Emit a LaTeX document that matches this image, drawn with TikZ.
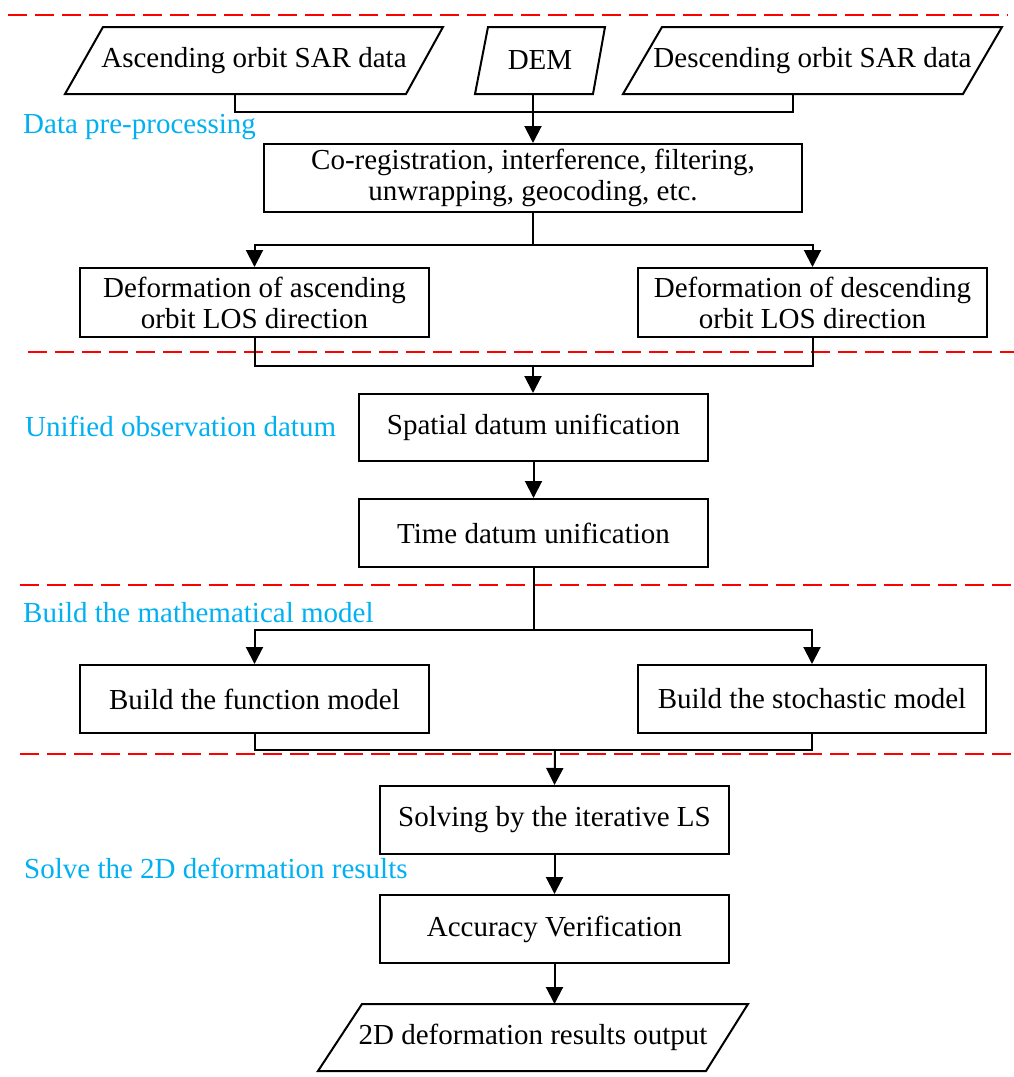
\documentclass[tikz,border=0pt]{standalone}
\usepackage{fontspec}
\setmainfont{Liberation Serif}
\usetikzlibrary{arrows.meta,calc}
\definecolor{lblcyan}{RGB}{0,176,240}
\tikzset{
  base/.style={line width=2pt},
  stepbox/.style={draw,base,rectangle,minimum width=349pt,minimum height=68pt,inner sep=2pt,align=center,font=\fontsize{29}{31}\selectfont},
  iotext/.style={rectangle,minimum height=67pt,inner sep=0pt,outer sep=0pt,font=\fontsize{29}{31}\selectfont},
  para/.style={base,line join=miter},
  conn/.style={base},
  arr/.style={base,-{Triangle[length=17pt,width=17pt]}},
  sep/.style={red,line width=1.8pt,dash pattern=on 19pt off 8pt},
  lbl/.style={anchor=base west,text=lblcyan,inner sep=0pt,font=\fontsize{29}{31}\selectfont}
}
\begin{document}
\begin{tikzpicture}[x=1pt,y=-1pt]
\useasboundingbox (0,0) rectangle (1014,1077);
% separators
\draw[sep] (8,15) -- (1008,15);
\draw[sep] (28,352) -- (1014,352);
\draw[sep] (20,585) -- (1014,585);
\draw[sep] (20,754) -- (1014,754);
% labels
\node[lbl] (l1) at (23,133) {Data pre-processing};
\node[lbl] (l2) at (25,436) {Unified observation datum};
\node[lbl] (l3) at (23,622) {Build the mathematical model};
\node[lbl] (l4) at (24,878) {Solve the 2D deformation results};
% inputs (text areas span the parallelograms' full width)
\node[iotext,minimum width=378pt] (asc) at (254,60.5) {Ascending orbit SAR data};
\node[iotext,minimum width=130pt] (dem) at (540,60.5) {DEM};
\node[iotext,minimum width=379pt] (desc) at (812.5,60.5) {Descending orbit SAR data};
\draw[para] (asc.south west) -- ($(asc.south west)+(341,0)$) -- (asc.north east) -- ($(asc.north east)+(-340,0)$) -- cycle;
\draw[para] (dem.south west) -- ($(dem.south west)+(118,0)$) -- (dem.north east) -- ($(dem.north east)+(-117,0)$) -- cycle;
\draw[para] (desc.south west) -- ($(desc.south west)+(340,0)$) -- (desc.north east) -- ($(desc.north east)+(-340,0)$) -- cycle;
% steps
\node[stepbox,minimum width=538pt] (pre) at (533,178) {Co-registration, interference, filtering,\\unwrapping, geocoding, etc.};
\node[stepbox,minimum height=69pt] (dasc) at (254.5,302.5) {Deformation of ascending\\orbit LOS direction};
\node[stepbox,minimum height=69pt] (ddesc) at (812.5,302.5) {Deformation of descending\\orbit LOS direction};
\node[stepbox,minimum height=67pt] (spat) at (533.5,427.5) {Spatial datum unification};
\node[stepbox] (time) at (533.5,533) {Time datum unification};
\node[stepbox] (func) at (254.5,699) {Build the function model};
\node[stepbox,minimum width=348pt] (stoch) at (812,699) {Build the stochastic model};
\node[stepbox] (solve) at (554.5,820) {Solving by the iterative LS};
\node[stepbox] (acc) at (554.5,929) {Accuracy Verification};
\node[iotext,minimum width=430pt] (out) at (533,1037.5) {2D deformation results output};
\draw[para] (out.south west) -- ($(out.south west)+(388,0)$) -- (out.north east) -- ($(out.north east)+(-386,0)$) -- cycle;
% junctions
\coordinate (m1) at (533,112);
\coordinate (m2) at (533,245);
\coordinate (m3) at (533,366);
\coordinate (m4) at (533,630);
\coordinate (m5) at (555,750);
% connectors
\draw[conn] ($(asc.south west)+(170,0)$) |- (m1) -| ($(desc.south west)+(170,0)$);
\draw[arr] ($(dem.south west)+(58,0)$) -- (m1 |- pre.north);
\draw[conn] (pre.south) -- (m2);
\draw[arr] (m2) -| (dasc.north);
\draw[arr] (m2) -| (ddesc.north);
\draw[conn] (dasc.south) |- (m3) -| (ddesc.south);
\draw[arr] (m3) -- (m3 |- spat.north);
\draw[arr] (spat) -- (time);
\draw[conn] (time.south) -- (time.south |- m4);
\draw[arr] (m4) -| (func.north);
\draw[arr] (m4) -| (stoch.north);
\draw[conn] (func.south) |- (m5) -| (stoch.south);
\draw[arr] (m5) -- (solve.north);
\draw[arr] (solve) -- (acc);
\draw[arr] (acc) -- (acc.south |- out.north);
\end{tikzpicture}
\end{document}
